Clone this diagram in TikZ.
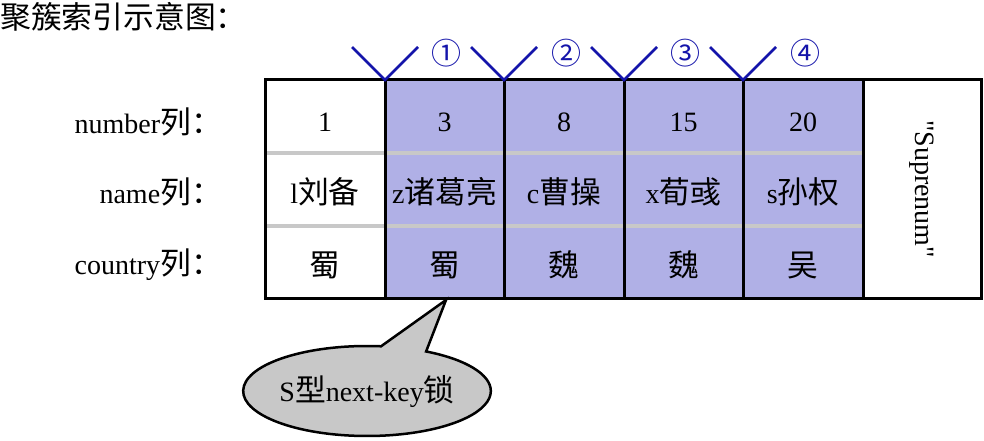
\documentclass[tikz,border=0pt]{standalone}
\usepackage{fontspec}
\setmainfont{Liberation Serif}
\newfontfamily\qfont[Ligatures=TeXOff]{Liberation Serif}
\newfontfamily\cjk[Scale=1.1]{Noto Sans CJK SC}
\newfontfamily\symf{Noto Sans CJK SC}
\usetikzlibrary{shapes.callouts}
\definecolor{lav}{RGB}{176,176,230}
\definecolor{vblue}{RGB}{20,20,170}
\definecolor{sepgray}{RGB}{200,200,200}
\definecolor{callgray}{RGB}{200,200,200}
\begin{document}
\begin{tikzpicture}[x=1pt,y=-1pt,
  every node/.style={font=\fontsize{28}{30}\selectfont, inner sep=0pt},
  rowsep/.style={draw=sepgray, line width=4pt},
  border/.style={draw=black, line width=3pt},
  vmark/.style={draw=vblue, line width=2.6pt},
  gapnum/.style={text=vblue, font=\symf\fontsize{30}{32}\selectfont},
  rowlabel/.style={anchor=east}]
\useasboundingbox (0,0) rectangle (984,441);
% title
\node[anchor=north west] (title) at (0,2) {{\cjk 聚簇索引示意图：}};
% shaded cells
\fill[lav] (385,80) rectangle (863,298);
% row separators
\draw[rowsep] (265,153) -- (863,153);
\draw[rowsep] (265,226) -- (863,226);
% outer border and column lines
\draw[border] (265,80) rectangle (981,298);
\foreach \x in {385,504,624,743,863} \draw[border] (\x,80) -- (\x,298);
% row labels
\node[rowlabel] (lnum) at (222,122) {number{\cjk 列：}};
\node[rowlabel] (lname) at (222,192) {name{\cjk 列：}};
\node[rowlabel] (lctry) at (222,265) {country{\cjk 列：}};
% cells
\node (n1) at (325,122) {1};
\node (n2) at (444.5,122) {3};
\node (n3) at (564,122) {8};
\node (n4) at (683.5,122) {15};
\node (n5) at (803,122) {20};
\node (m1) at (325,192) {l{\cjk 刘备}};
\node (m2) at (444.5,192) {z{\cjk 诸葛亮}};
\node (m3) at (564,192) {c{\cjk 曹操}};
\node (m4) at (683.5,192) {x{\cjk 荀彧}};
\node (m5) at (803,192) {s{\cjk 孙权}};
\node (c1) at (325,265) {{\cjk 蜀}};
\node (c2) at (444.5,265) {{\cjk 蜀}};
\node (c3) at (564,265) {{\cjk 魏}};
\node (c4) at (683.5,265) {{\cjk 魏}};
\node (c5) at (803,265) {{\cjk 吴}};
\node[rotate=-90] (sup) at (922,189) {{\qfont "Suprenum"}};
% gap markers
\foreach \x [count=\i] in {385,504,624,743} {
  \coordinate (v\i) at (\x,80);
  \coordinate (vl\i) at (\x-33,47);
  \coordinate (vr\i) at (\x+33,47);
  \draw[vmark, line join=miter] (vl\i) -- (v\i) -- (vr\i);
}
\node[gapnum] (g1) at (446,53) {①};
\node[gapnum] (g2) at (566,53) {②};
\node[gapnum] (g3) at (685,53) {③};
\node[gapnum] (g4) at (805,53) {④};
% callout
\coordinate (tip) at (446,300);
\node[ellipse callout, draw=black, line width=2.5pt, fill=callgray,
  minimum width=244pt, minimum height=90pt, callout pointer arc=22,
  callout absolute pointer=(tip)] (lock) at (367,391) {S{\cjk 型}next-key{\cjk 锁}};
\end{tikzpicture}
\end{document}
